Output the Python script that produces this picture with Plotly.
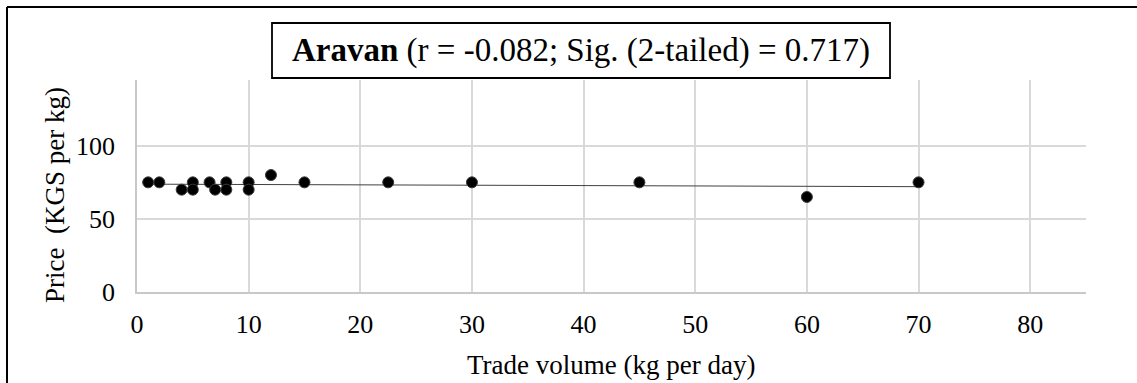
import numpy as np
import plotly.graph_objects as go

# Aravan market: daily trade volume vs. price
volume_kg = [1, 2, 4, 5, 5, 6.5, 7, 8, 8, 10, 10, 12, 15, 22.5, 30, 45, 60, 70]
price_kgs = [75, 75, 70, 75, 70, 75, 70, 75, 70, 75, 70, 80, 75, 75, 75, 75, 65, 75]

x_ticks = [0, 10, 20, 30, 40, 50, 60, 70, 80]
y_ticks = [0, 50, 100]

title_bold = "Aravan"
title_rest = " (r = -0.082; Sig. (2-tailed) = 0.717)"
x_title = "Trade volume (kg per day)"
y_title = "Price  (KGS per kg)"

W, H = 1137, 383
L, R, T, B = 137, 1086, 80, 292  # plot area edges in pixels

def px_x(p):
    return (p - L) / (R - L)

def px_y(p):
    return (B - p) / (B - T)

# linear trend line
slope, intercept = np.polyfit(volume_kg, price_kgs, 1)
trend_x = [min(volume_kg), max(volume_kg)]
trend_y = [slope * v + intercept for v in trend_x]

SERIF = "Liberation Serif, Times New Roman, serif"

fig = go.Figure()
fig.add_trace(go.Scatter(
    x=trend_x, y=trend_y, mode="lines",
    line=dict(color="#404040", width=1), hoverinfo="skip", showlegend=False,
))
fig.add_trace(go.Scatter(
    x=volume_kg, y=price_kgs, mode="markers",
    marker=dict(color="#000000", size=11, line=dict(color="#3a3a3a", width=1)),
    showlegend=False,
))

fig.update_layout(
    width=W, height=H,
    margin=dict(l=L, r=W - R, t=T, b=H - B),
    paper_bgcolor="white", plot_bgcolor="white",
    font=dict(family=SERIF, color="#000000", size=26),
    xaxis=dict(
        range=[0, 85], tickvals=x_ticks, ticktext=[str(v) for v in x_ticks],
        showgrid=True, gridcolor="#d9d9d9", gridwidth=1.6,
        showline=True, linecolor="#c8c8c8", linewidth=1.8,
        zeroline=False, ticks="", ticklabelstandoff=8,
        tickfont=dict(family=SERIF, size=26),
    ),
    yaxis=dict(
        range=[0, 145], tickvals=y_ticks, ticktext=[str(v) for v in y_ticks],
        showgrid=True, gridcolor="#d9d9d9", gridwidth=1.6,
        showline=True, linecolor="#c8c8c8", linewidth=1.8,
        zeroline=False, ticks="outside", ticklen=15,
        tickcolor="rgba(0,0,0,0)",
        tickfont=dict(family=SERIF, size=26),
    ),
    shapes=[
        # outer frame (left and top edges)
        dict(type="line", xref="paper", yref="paper",
             x0=px_x(7), x1=px_x(7), y0=px_y(7), y1=px_y(H + 5),
             line=dict(color="black", width=2)),
        dict(type="line", xref="paper", yref="paper",
             x0=px_x(7), x1=px_x(W + 5), y0=px_y(7), y1=px_y(7),
             line=dict(color="black", width=2)),
        # title box
        dict(type="rect", xref="paper", yref="paper",
             x0=px_x(272), x1=px_x(890), y0=px_y(78), y1=px_y(23),
             line=dict(color="black", width=1.8), fillcolor="white"),
    ],
    annotations=[
        dict(text=f"<b>{title_bold}</b>{title_rest}", xref="paper", yref="paper",
             x=px_x(581), y=px_y(51), xanchor="center", yanchor="middle",
             showarrow=False, font=dict(family=SERIF, size=33, color="black")),
        dict(text=x_title, xref="paper", yref="paper",
             x=px_x(611), y=px_y(365), xanchor="center", yanchor="middle",
             showarrow=False, font=dict(family=SERIF, size=27, color="black")),
        dict(text=y_title, xref="paper", yref="paper", textangle=-90,
             x=px_x(55), y=px_y(195), xanchor="center", yanchor="middle",
             showarrow=False, font=dict(family=SERIF, size=27, color="black")),
    ],
)

fig.write_html("out.html")
